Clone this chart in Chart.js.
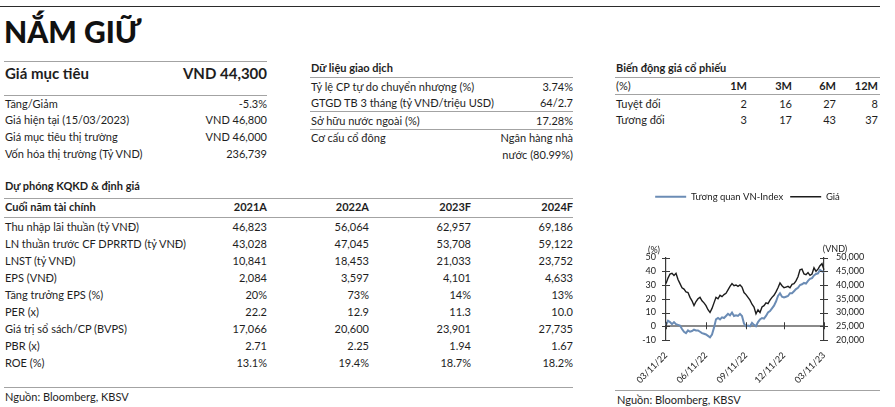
<!DOCTYPE html>
<html lang="vi">
<head>
<meta charset="utf-8">
<title>NẮM GIỮ</title>
<script src="https://cdn.jsdelivr.net/npm/chart.js@4.4.1/dist/chart.umd.min.js"></script>
<style>
    html, body { margin: 0; padding: 0; background: #fff; }
    body {
        width: 895px; height: 407px; position: relative; overflow: hidden;
        font-family: Lato, "Open Sans", sans-serif; font-size: 11px; color: #1e1e1e;
    }
    .hr { position: absolute; height: 0; border-top: 1px solid #a3a3a3; }
    .row { position: absolute; height: 17px; line-height: 17px; white-space: nowrap; }
    .row span { position: absolute; top: 0; }
    .b { font-weight: 700; }
    #title { position: absolute; left: 4px; top: 16px; font-size: 30px; line-height: 30px; font-weight: 900; color: #111; }
    #chart-box { position: absolute; left: 615px; top: 185px; width: 265px; height: 200px; }
</style>
</head>
<body>
<div class="hr" style="left:0; top:6px; width:880px; border-top:1px solid #2b2b2b;"></div>
<div id="title">NẮM GIỮ</div>

<!-- Giá mục tiêu -->
<div class="hr" style="left:4px; top:61px; width:263px;"></div>
<div class="row b" style="left:5px; width:262px; top:63px; height:20px; line-height:20px; font-size:15px;">
    <span style="left:0">Giá mục tiêu</span><span style="right:0">VND 44,300</span>
</div>
<div class="hr" style="left:4px; top:95px; width:263px;"></div>
<div class="row" style="left:5px; width:262px; top:95px;"><span style="left:0">Tăng/Giảm</span><span style="right:0">-5.3%</span></div>
<div class="row" style="left:5px; width:262px; top:111px;"><span style="left:0">Giá hiện tại (15/03/2023)</span><span style="right:0">VND 46,800</span></div>
<div class="row" style="left:5px; width:262px; top:128px;"><span style="left:0">Giá mục tiêu thị trường</span><span style="right:0">VND 46,000</span></div>
<div class="row" style="left:5px; width:262px; top:145px;"><span style="left:0">Vốn hóa thị trường (Tỷ VND)</span><span style="right:0">236,739</span></div>

<!-- Dữ liệu giao dịch -->
<div class="row b" style="left:311px; width:262px; top:59px;"><span style="left:0">Dữ liệu giao dịch</span></div>
<div class="hr" style="left:310px; top:77px; width:263px;"></div>
<div class="row" style="left:311px; width:262px; top:78px;"><span style="left:0">Tỷ lệ CP tự do chuyển nhượng (%)</span><span style="right:0">3.74%</span></div>
<div class="row" style="left:311px; width:262px; top:94px;"><span style="left:0">GTGD TB 3 tháng (tỷ VNĐ/triệu USD)</span><span style="right:0">64/2.7</span></div>
<div class="hr" style="left:310px; top:111px; width:263px;"></div>
<div class="row" style="left:311px; width:262px; top:112px;"><span style="left:0">Sở hữu nước ngoài (%)</span><span style="right:0">17.28%</span></div>
<div class="hr" style="left:310px; top:129px; width:263px;"></div>
<div class="row" style="left:311px; width:262px; top:129px;"><span style="left:0">Cơ cấu cổ đông</span><span style="right:0">Ngân hàng nhà</span></div>
<div class="row" style="left:311px; width:262px; top:146px;"><span style="right:0">nước (80.99%)</span></div>

<!-- Biến động giá cổ phiếu -->
<div class="row b" style="left:616px; width:263px; top:59px;"><span style="left:0">Biến động giá cổ phiếu</span></div>
<div class="hr" style="left:615px; top:77px; width:265px;"></div>
<div class="row b" style="left:616px; width:262px; top:77px;">
    <span style="left:0; font-weight:400">(%)</span><span style="right:131px">1M</span><span style="right:86px">3M</span><span style="right:42px">6M</span><span style="right:0">12M</span>
</div>
<div class="hr" style="left:615px; top:94px; width:265px;"></div>
<div class="row" style="left:616px; width:262px; top:95px;">
    <span style="left:0">Tuyệt đối</span><span style="right:131px">2</span><span style="right:86px">16</span><span style="right:42px">27</span><span style="right:0">8</span>
</div>
<div class="row" style="left:616px; width:262px; top:111px;">
    <span style="left:0">Tương đối</span><span style="right:131px">3</span><span style="right:86px">17</span><span style="right:42px">43</span><span style="right:0">37</span>
</div>

<!-- Dự phóng KQKD & định giá -->
<div class="row b" style="left:5px; width:568px; top:177px;"><span style="left:0">Dự phóng KQKD &amp; định giá</span></div>
<div class="hr" style="left:4px; top:198px; width:569px;"></div>
<div id="forecast"></div>
<div class="hr" style="left:4px; top:217px; width:569px;"></div>
<div class="hr" style="left:4px; top:387px; width:569px;"></div>
<div class="row" style="left:5px; width:300px; top:388px;"><span style="left:0">Nguồn: Bloomberg, KBSV</span></div>

<!-- chart -->
<div id="chart-box"><canvas id="price-chart" width="265" height="200"></canvas></div>
<div class="hr" style="left:615px; top:390px; width:265px;"></div>
<div class="row" style="left:617px; width:260px; top:391px;"><span style="left:0">Nguồn: Bloomberg, KBSV</span></div>

<script>
// Forecast table text
const forecastRows = [
    ['Cuối năm tài chính', '2021A', '2022A', '2023F', '2024F'],
    ['Thu nhập lãi thuần (tỷ VNĐ)', '46,823', '56,064', '62,957', '69,186'],
    ['LN thuần trước CF DPRRTD (tỷ VNĐ)', '43,028', '47,045', '53,708', '59,122'],
    ['LNST (tỷ VNĐ)', '10,841', '18,453', '21,033', '23,752'],
    ['EPS (VNĐ)', '2,084', '3,597', '4,101', '4,633'],
    ['Tăng trưởng EPS (%)', '20%', '73%', '14%', '13%'],
    ['PER (x)', '22.2', '12.9', '11.3', '10.0'],
    ['Giá trị sổ sách/CP (BVPS)', '17,066', '20,600', '23,901', '27,735'],
    ['PBR (x)', '2.71', '2.25', '1.94', '1.67'],
    ['ROE (%)', '13.1%', '19.4%', '18.7%', '18.2%']
];
const colRight = [306, 204, 102, 0];

document.getElementById('forecast').innerHTML = forecastRows.map((r, i) => {
    const top = i === 0 ? 198 : 218 + (i - 1) * 17;
    const cls = i === 0 ? 'row b' : 'row';
    return `<div class="${cls}" style="left:5px; width:568px; top:${top}px;">
        <span style="left:0">${r[0]}</span>
        ${r.slice(1).map((v, k) => `<span style="right:${colRight[k]}px">${v}</span>`).join('')}
    </div>`;
}).join('');

// Chart data (Mar 11 2022 -> Mar 11 2023)
const seriesNames = ['Tương quan VN-Index', 'Giá'];
const dateTicks = ['03/11/22', '06/11/22', '09/11/22', '12/11/22', '03/11/23'];
const dateTickIdx = [0, 20, 40, 59, 79];

// relative performance vs VN-Index (%), left axis
const vnIndexRel = [
    1, 4, 3, 1.5, 3, 1.5, 1, 0.5, -2, -4,
    -5, -3, -4, -3.5, -2.5, -3, -3, -4, -5, -5.5,
    -6, -7, -8, -6, -1, 5, 6, 5, 6.5, 6,
    7.5, 9, 8, 10, 7.5, 8, 7.5, 9, 7.5, 2,
    0, 0.5, 0, 2.5, 1, 0, 3, 5, 6, 5.5,
    7.5, 10, 11, 13, 15, 18, 22, 24, 21.5, 21,
    21.5, 22, 24, 24, 25.5, 27, 28, 30, 30.5, 31.5,
    31, 33, 34.5, 35, 37, 38, 38.5, 41, 40, 39.5
];

// share price (VND), right axis
const price = [
    40500, 42500, 44000, 44250, 43500, 44250, 42000, 40500, 39000, 38500,
    37500, 37250, 35500, 34250, 32500, 34000, 35000, 35500, 34250, 33500,
    32500, 31000, 30000, 31500, 33500, 35500, 35000, 36250, 35750, 36500,
    37000, 38250, 39500, 40500, 39750, 40000, 39500, 40000, 39250, 37250,
    36500, 35500, 34500, 33000, 32000, 29500, 31000, 30000, 32000, 32500,
    33500, 33250, 34500, 35500, 36250, 37500, 39000, 40750, 39750, 39000,
    39250, 39500, 39000, 40250, 40500, 41500, 43000, 45500, 45750, 44000,
    43750, 44500, 43500, 44000, 46250, 45000, 45750, 47000, 47750, 45500
];

const labels = price.map((_, i) => {
    const k = dateTickIdx.indexOf(i);
    return k >= 0 ? dateTicks[k] : '';
});

const FONT = 'Lato';
const INK = '#222';
const AXIS = '#3a3a3a';

// extra room between legend and plot
const legendSpacer = {
    id: 'legendSpacer',
    beforeInit(chart) {
        const fit = chart.legend.fit;
        chart.legend.fit = function () {
            fit.bind(chart.legend)();
            this.height += 46;
        };
    }
};

// cross ticks on the axes, ticks on the zero line, unit labels
const axisMarks = {
    id: 'axisMarks',
    afterDraw(chart) {
        const { ctx, chartArea: a, scales: { x, y, y2 } } = chart;
        ctx.save();
        ctx.strokeStyle = AXIS;
        ctx.lineWidth = 1;
        const seg = (x1, y1, x2, y2_) => { ctx.beginPath(); ctx.moveTo(x1, y1); ctx.lineTo(x2, y2_); ctx.stroke(); };
        y.ticks.forEach(t => {
            const py = Math.round(y.getPixelForValue(t.value)) + 0.5;
            seg(a.left - 4, py, a.left + 4, py);
        });
        y2.ticks.forEach(t => {
            const py = Math.round(y2.getPixelForValue(t.value)) + 0.5;
            seg(a.right - 4, py, a.right + 4, py);
        });
        const zy = y.getPixelForValue(0);
        dateTickIdx.forEach(i => {
            const px = Math.round(x.getPixelForValue(i)) + 0.5;
            seg(px, zy - 4, px, zy + 3);
        });
        ctx.fillStyle = INK;
        ctx.font = `9px ${FONT}`;
        ctx.textAlign = 'center';
        ctx.textBaseline = 'middle';
        ctx.fillText('(%)', a.left - 12, a.top - 7);
        ctx.fillText('(VND)', a.right + 11, a.top - 8);
        ctx.restore();
    }
};

new Chart(document.getElementById('price-chart'), {
    type: 'line',
    data: {
        labels,
        datasets: [
            {
                label: seriesNames[0],
                data: vnIndexRel,
                yAxisID: 'y',
                borderColor: '#6b8cb5',
                borderWidth: 2,
                order: 2
            },
            {
                label: seriesNames[1],
                data: price,
                yAxisID: 'y2',
                borderColor: '#1c1c1c',
                borderWidth: 1.4,
                order: 1
            }
        ]
    },
    options: {
        responsive: false,
        animation: false,
        elements: { point: { radius: 0 }, line: { tension: 0 } },
        layout: { padding: 0 },
        scales: {
            x: {
                type: 'category',
                grid: { display: false },
                border: { display: false },
                ticks: {
                    autoSkip: false,
                    minRotation: 45,
                    maxRotation: 45,
                    padding: 2,
                    color: INK,
                    font: { family: FONT, size: 9 },
                    callback: (v, i) => labels[i] || null
                },
                afterFit: s => { s.height = 45; }
            },
            y: {
                position: 'left',
                min: -10,
                max: 50,
                ticks: { stepSize: 10, autoSkip: false, padding: 10, color: INK, font: { family: FONT, size: 9 } },
                grid: {
                    drawTicks: false,
                    color: c => (c.tick && c.tick.value === 0 ? '#8a8a8a' : 'rgba(0,0,0,0)'),
                    lineWidth: 2
                },
                border: { color: AXIS, width: 1.2 },
                afterFit: s => { s.width = 51; }
            },
            y2: {
                position: 'right',
                min: 20000,
                max: 50000,
                ticks: {
                    stepSize: 5000, autoSkip: false, padding: 12, color: INK, font: { family: FONT, size: 9 },
                    callback: v => v.toLocaleString('en-US')
                },
                grid: { drawOnChartArea: false, drawTicks: false },
                border: { color: AXIS, width: 1.2 },
                afterFit: s => { s.width = 56; }
            }
        },
        plugins: {
            legend: {
                position: 'top',
                labels: {
                    usePointStyle: true,
                    pointStyle: 'line',
                    pointStyleWidth: 31,
                    padding: 7,
                    color: INK,
                    font: { family: FONT, size: 9.5 },
                    sort: (a, b) => a.datasetIndex - b.datasetIndex
                }
            },
            tooltip: { enabled: false }
        }
    },
    plugins: [legendSpacer, axisMarks]
});
</script>
</body>
</html>
